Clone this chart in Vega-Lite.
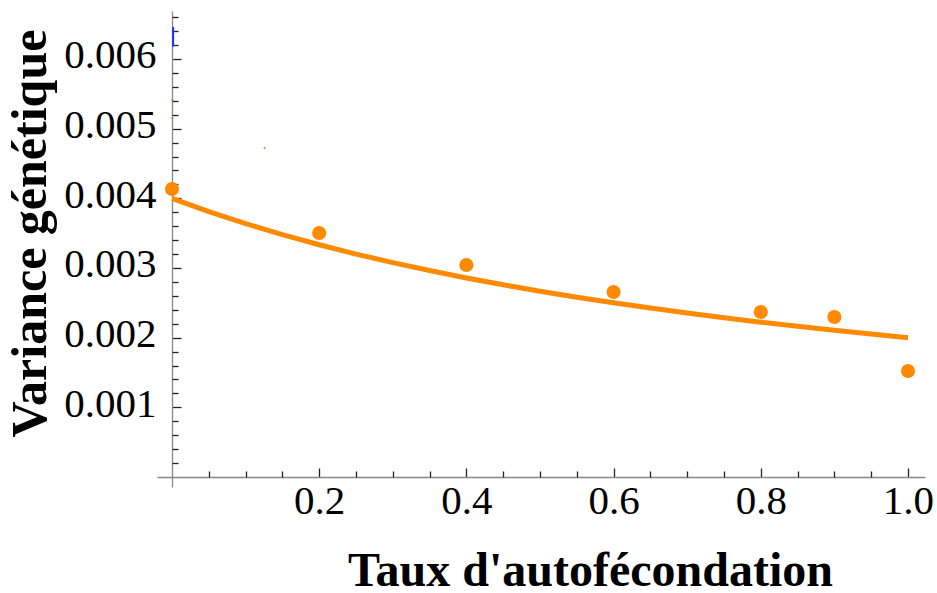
{
  "$schema": "https://vega.github.io/schema/vega-lite/v6.json",
  "width": 768,
  "height": 476,
  "autosize": {"type": "none"},
  "padding": {"left": 157, "top": 11, "right": 12, "bottom": 106},
  "background": "white",
  "config": {"view": {"stroke": null}},
  "datasets": {
    "curve": [
      {"s": 0.0, "v": 0.0040},
      {"s": 0.05, "v": 0.0038095},
      {"s": 0.1, "v": 0.0036364},
      {"s": 0.15, "v": 0.0034783},
      {"s": 0.2, "v": 0.0033333},
      {"s": 0.25, "v": 0.0032},
      {"s": 0.3, "v": 0.0030769},
      {"s": 0.35, "v": 0.002963},
      {"s": 0.4, "v": 0.0028571},
      {"s": 0.45, "v": 0.0027586},
      {"s": 0.5, "v": 0.0026667},
      {"s": 0.55, "v": 0.0025806},
      {"s": 0.6, "v": 0.0025},
      {"s": 0.65, "v": 0.0024242},
      {"s": 0.7, "v": 0.0023529},
      {"s": 0.75, "v": 0.0022857},
      {"s": 0.8, "v": 0.0022222},
      {"s": 0.85, "v": 0.0021622},
      {"s": 0.9, "v": 0.0021053},
      {"s": 0.95, "v": 0.0020513},
      {"s": 1.0, "v": 0.0020}
    ],
    "points": [
      {"s": 0.0, "v": 0.004134},
      {"s": 0.2, "v": 0.003502},
      {"s": 0.4, "v": 0.003043},
      {"s": 0.6, "v": 0.002655},
      {"s": 0.8, "v": 0.002368},
      {"s": 0.9, "v": 0.002297},
      {"s": 1.0, "v": 0.001521}
    ],
    "blue": [
      {"s": 0.0015, "v": 0.00618},
      {"s": 0.0015, "v": 0.00646}
    ],
    "green": [
      {"s": 0.0005, "v": 0.00541},
      {"s": 0.0005, "v": 0.00515},
      {"s": 0.126, "v": 0.00472}
    ]
  },
  "resolve": {"axis": {"x": "independent", "y": "independent"}},
  "layer": [
    {
      "data": {"name": "curve"},
      "mark": {"type": "line", "color": "#ff8a00", "strokeWidth": 5, "clip": false},
      "encoding": {
        "x": {
          "field": "s",
          "type": "quantitative",
          "scale": {"domain": [-0.0204, 1.0231], "nice": false, "zero": false},
          "axis": {
            "orient": "bottom",
            "offset": -10,
            "grid": false,
            "values": [0.2, 0.4, 0.6, 0.8, 1.0],
            "format": ".1f",
            "tickSize": -9,
            "domainColor": "#888888",
            "domainWidth": 1.3,
            "tickColor": "#222222",
            "tickWidth": 1.3,
            "labelFont": "Liberation Serif",
            "labelFontSize": 41,
            "labelColor": "black",
            "labelPadding": 13,
            "labelFlush": false,
            "labelOverlap": false,
            "title": "Taux d'autofécondation",
            "titleFont": "Liberation Serif",
            "titleFontSize": 48,
            "titleFontWeight": "bold",
            "titleColor": "black",
            "titleX": 433,
            "titleY": 108,
            "titleAlign": "center",
            "titleBaseline": "alphabetic"
          }
        },
        "y": {
          "field": "v",
          "type": "quantitative",
          "scale": {"domain": [-0.000144, 0.006689], "nice": false, "zero": false},
          "axis": {
            "orient": "left",
            "offset": -15,
            "grid": false,
            "values": [0.001, 0.002, 0.003, 0.004, 0.005, 0.006],
            "format": ".3f",
            "tickSize": -9,
            "domainColor": "#888888",
            "domainWidth": 1.3,
            "tickColor": "#222222",
            "tickWidth": 1.3,
            "labelFont": "Liberation Serif",
            "labelFontSize": 41,
            "labelColor": "black",
            "labelPadding": 25,
            "labelOffset": -3,
            "labelFlush": false,
            "labelOverlap": false,
            "title": "Variance génétique",
            "titleFont": "Liberation Serif",
            "titleFontSize": 50,
            "titleFontWeight": "bold",
            "titleColor": "black",
            "titleAngle": -90,
            "titleX": -127,
            "titleY": 222,
            "titleAlign": "center",
            "titleBaseline": "alphabetic"
          }
        }
      }
    },
    {
      "data": {"name": "points"},
      "mark": {"type": "circle", "color": "#ff8a00", "size": 200, "opacity": 1, "clip": false},
      "encoding": {
        "x": {
          "field": "s",
          "type": "quantitative",
          "axis": {
            "orient": "bottom",
            "offset": -10,
            "grid": false,
            "domain": false,
            "labels": false,
            "title": null,
            "values": [0.05, 0.1, 0.15, 0.25, 0.3, 0.35, 0.45, 0.5, 0.55, 0.65, 0.7, 0.75, 0.85, 0.9, 0.95],
            "tickSize": -6,
            "tickColor": "#222222",
            "tickWidth": 1.3
          }
        },
        "y": {
          "field": "v",
          "type": "quantitative",
          "axis": {
            "orient": "left",
            "offset": -15,
            "grid": false,
            "domain": false,
            "labels": false,
            "title": null,
            "values": [0.0002, 0.0004, 0.0006, 0.0008, 0.0012, 0.0014, 0.0016, 0.0018, 0.0022, 0.0024, 0.0026, 0.0028, 0.0032, 0.0034, 0.0036, 0.0038, 0.0042, 0.0044, 0.0046, 0.0048, 0.0052, 0.0054, 0.0056, 0.0058, 0.0062, 0.0064, 0.0066],
            "tickSize": -6,
            "tickColor": "#222222",
            "tickWidth": 1.3
          }
        }
      }
    },
    {
      "data": {"name": "blue"},
      "mark": {"type": "line", "color": "#2030ff", "strokeWidth": 2, "clip": false},
      "encoding": {
        "x": {"field": "s", "type": "quantitative", "axis": null},
        "y": {"field": "v", "type": "quantitative", "axis": null}
      }
    },
    {
      "data": {"name": "green"},
      "mark": {"type": "circle", "color": "#30d030", "size": 5, "opacity": 0.8, "clip": false},
      "encoding": {
        "x": {"field": "s", "type": "quantitative", "axis": null},
        "y": {"field": "v", "type": "quantitative", "axis": null}
      }
    }
  ]
}
